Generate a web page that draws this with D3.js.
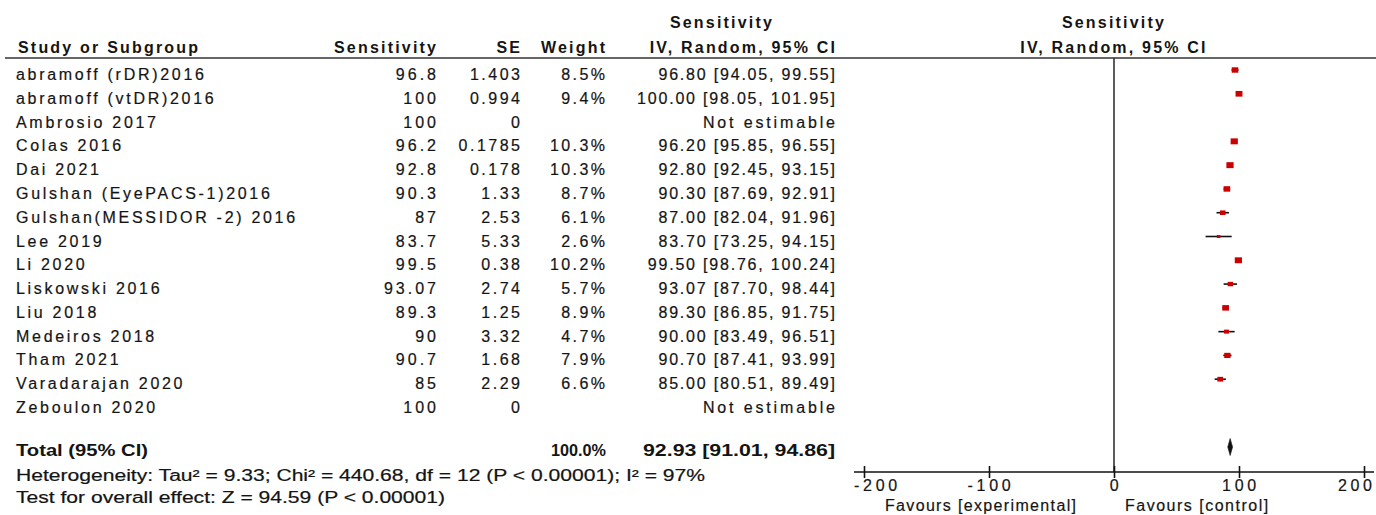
<!DOCTYPE html>
<html>
<head>
<meta charset="utf-8">
<script src="https://cdn.jsdelivr.net/npm/d3@7"></script>
<style>
  html, body { margin: 0; padding: 0; background: #fff; }
  svg { display: block; }
  text { font-family: "Liberation Sans", Arial, sans-serif; fill: #141414; }
</style>
</head>
<body>
<svg id="chart" width="1376" height="515"></svg>
<script>
// Study-level data
const studies = [
  "abramoff (rDR)2016", "abramoff (vtDR)2016", "Ambrosio 2017", "Colas 2016", "Dai 2021",
  "Gulshan (EyePACS-1)2016", "Gulshan(MESSIDOR -2) 2016", "Lee 2019", "Li 2020",
  "Liskowski 2016", "Liu 2018", "Medeiros 2018", "Tham 2021", "Varadarajan 2020", "Zeboulon 2020"
];
const sensitivity = [96.8, 100, 100, 96.2, 92.8, 90.3, 87, 83.7, 99.5, 93.07, 89.3, 90, 90.7, 85, 100];
const seValues = [1.403, 0.994, 0, 0.1785, 0.178, 1.33, 2.53, 5.33, 0.38, 2.74, 1.25, 3.32, 1.68, 2.29, 0];
const weights = [8.5, 9.4, null, 10.3, 10.3, 8.7, 6.1, 2.6, 10.2, 5.7, 8.9, 4.7, 7.9, 6.6, null];
const ciLower = [94.05, 98.05, null, 95.85, 92.45, 87.69, 82.04, 73.25, 98.76, 87.70, 86.85, 83.49, 87.41, 80.51, null];
const ciUpper = [99.55, 101.95, null, 96.55, 93.15, 92.91, 91.96, 94.15, 100.24, 98.44, 91.75, 96.51, 93.99, 89.49, null];

// Pooled estimate
const totalWeight = 100.0;
const totalEstimate = 92.93;
const totalLower = 91.01;
const totalUpper = 94.86;

const axisTicks = [-200, -100, 0, 100, 200];
const heterogeneityText = "Heterogeneity: Tau\u00B2 = 9.33; Chi\u00B2 = 440.68, df = 12 (P < 0.00001); I\u00B2 = 97%";
const overallText = "Test for overall effect: Z = 94.59 (P < 0.00001)";

const svg = d3.select("#chart");
const FS = 16, LS = 2.7, LSB = 2.2;

const x = d3.scaleLinear().domain([-200, 200]).range([864, 1364]);
const rowY = d3.scalePoint().domain(d3.range(studies.length)).range([80, 413]);

function txt(g, s, xPos, y, opt = {}) {
  const ls = opt.ls !== undefined ? opt.ls : (opt.bold ? LSB : LS);
  const anchor = opt.anchor || "start";
  const t = g.append("text")
    .attr("x", anchor === "end" ? xPos + ls : xPos)
    .attr("y", y)
    .attr("text-anchor", anchor)
    .attr("font-size", FS)
    .attr("letter-spacing", ls)
    .attr("font-weight", opt.bold ? "bold" : "normal")
    .attr("stroke", opt.bold ? null : "#141414")
    .attr("stroke-width", opt.bold ? null : 0.2)
    .text(s);
  if (opt.len) t.attr("textLength", opt.len).attr("lengthAdjust", "spacingAndGlyphs").attr("letter-spacing", 0).attr("x", xPos);
  return t;
}

const g = svg.append("g");

// Column headers
txt(g, "Study or Subgroup", 18, 53, { bold: true });
txt(g, "Sensitivity", 436, 53, { bold: true, anchor: "end" });
txt(g, "SE", 520, 53, { bold: true, anchor: "end" });
txt(g, "Weight", 605, 53, { bold: true, anchor: "end" });
txt(g, "Sensitivity", 722, 28, { bold: true, anchor: "middle" });
txt(g, "IV, Random, 95% CI", 835, 53, { bold: true, anchor: "end" });
txt(g, "Sensitivity", x(0), 28, { bold: true, anchor: "middle" });
txt(g, "IV, Random, 95% CI", x(0), 53, { bold: true, anchor: "middle" });

g.append("line").attr("x1", 5).attr("x2", 1376).attr("y1", 58).attr("y2", 58)
  .attr("stroke", "#333").attr("stroke-width", 1.6);

// Study rows
const f2 = d3.format(".2f");
studies.forEach((name, i) => {
  const y = rowY(i);
  txt(g, name, 16, y);
  txt(g, String(sensitivity[i]), 436, y, { anchor: "end", ls: 3 });
  txt(g, String(seValues[i]), 520, y, { anchor: "end", ls: 2.5 });
  if (weights[i] !== null) txt(g, weights[i].toFixed(1) + "%", 605, y, { anchor: "end", ls: 2.4 });
  if (weights[i] !== null) {
    txt(g, `${f2(sensitivity[i])} [${f2(ciLower[i])}, ${f2(ciUpper[i])}]`, 835, y, { anchor: "end", ls: 1.8 });
  } else {
    txt(g, "Not estimable", 835, y, { anchor: "end", ls: 2.85 });
  }
});

// Line of no effect
g.append("line").attr("x1", x(0)).attr("x2", x(0)).attr("y1", 58).attr("y2", 472)
  .attr("stroke", "#333").attr("stroke-width", 1.6);

// Confidence intervals and weighted squares
const marks = g.append("g");
studies.forEach((name, i) => {
  if (weights[i] === null) return;
  const cy = rowY(i) - 10;
  marks.append("line")
    .attr("x1", x(ciLower[i])).attr("x2", x(ciUpper[i]))
    .attr("y1", cy).attr("y2", cy)
    .attr("stroke", "#111").attr("stroke-width", 1.6);
  const w = 2.25 * Math.sqrt(weights[i]);
  const h = 1.85 * Math.sqrt(weights[i]);
  marks.append("rect")
    .attr("x", x(sensitivity[i]) - w / 2).attr("y", cy - h / 2)
    .attr("width", w).attr("height", h)
    .attr("fill", "#cc0000");
});

// Pooled total row
const totalY = 456;
txt(g, "Total (95% CI)", 16, totalY, { bold: true, len: 132 });
txt(g, totalWeight.toFixed(1) + "%", 551, totalY, { bold: true, len: 55 });
txt(g, `${f2(totalEstimate)} [${f2(totalLower)}, ${f2(totalUpper)}]`, 643, totalY, { bold: true, len: 192 });

const dy = totalY - 9, dh = 8.5;
g.append("path")
  .attr("d", `M${x(totalLower)},${dy} L${x(totalEstimate)},${dy - dh} L${x(totalUpper)},${dy} L${x(totalEstimate)},${dy + dh} Z`)
  .attr("fill", "#111").attr("stroke", "#111").attr("stroke-width", 0.6);

txt(g, heterogeneityText, 16, 481, { len: 689 });
txt(g, overallText, 16, 503, { len: 429 });

// Axis
const axisY = 472;
const axisG = g.append("g").attr("transform", `translate(0,${axisY})`)
  .call(d3.axisBottom(x).tickValues(axisTicks).tickSize(6));
axisG.select(".domain").remove();
axisG.selectAll(".tick line").attr("y1", -6).attr("y2", 6).attr("stroke", "#111").attr("stroke-width", 1.6);
axisG.selectAll(".tick text").remove();
g.append("line").attr("x1", 854).attr("x2", 1374).attr("y1", axisY).attr("y2", axisY)
  .attr("stroke", "#111").attr("stroke-width", 1.6);

axisTicks.forEach((t, i) => {
  let anchor = "middle", xp = x(t) + 2;
  if (i === 0) { anchor = "start"; xp = x(t) - 10; }
  if (i === axisTicks.length - 1) { anchor = "end"; xp = 1372; }
  txt(g, String(t), xp, 491, { anchor, ls: 3.7 });
});

txt(g, "Favours [experimental]", 1076, 511, { anchor: "end", ls: 1.35 });
txt(g, "Favours [control]", 1125, 511, { ls: 1.5 });
</script>
</body>
</html>
